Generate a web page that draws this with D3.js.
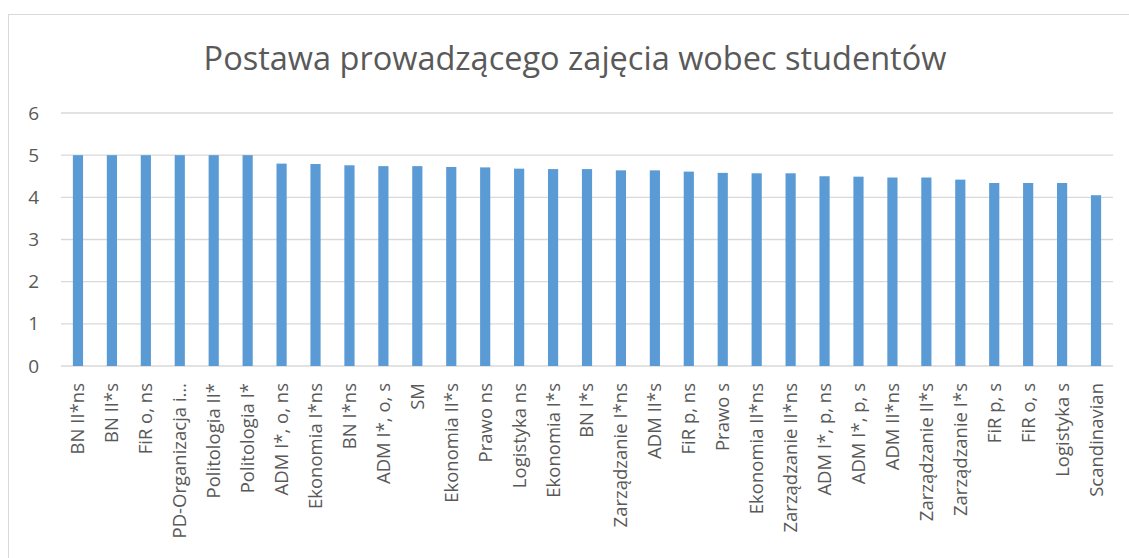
<!DOCTYPE html>
<html>
<head>
<meta charset="utf-8">
<script src="https://cdn.jsdelivr.net/npm/d3@7"></script>
<style>
  html, body { margin: 0; padding: 0; background: #fff; }
  svg { display: block; }
</style>
</head>
<body>
<svg id="chart" width="1129" height="558"></svg>
<script>
const title = "Postawa prowadzącego zajęcia wobec studentów";
const categories = [
  "BN II*ns", "BN II*s", "FiR o, ns", "PD-Organizacja i…", "Politologia II*",
  "Politologia I*", "ADM I*, o, ns", "Ekonomia I*ns", "BN I*ns", "ADM I*, o, s",
  "SM", "Ekonomia II*s", "Prawo ns", "Logistyka ns", "Ekonomia I*s",
  "BN I*s", "Zarządzanie I*ns", "ADM II*s", "FiR p, ns", "Prawo s",
  "Ekonomia II*ns", "Zarządzanie II*ns", "ADM I*, p, ns", "ADM I*, p, s", "ADM II*ns",
  "Zarządzanie II*s", "Zarządzanie I*s", "FiR p, s", "FiR o, s", "Logistyka s",
  "Scandinavian"
];
const values = [
  5.00, 5.00, 5.00, 5.00, 5.00,
  5.00, 4.80, 4.79, 4.76, 4.74,
  4.74, 4.72, 4.71, 4.68, 4.67,
  4.67, 4.64, 4.64, 4.61, 4.58,
  4.57, 4.57, 4.50, 4.49, 4.47,
  4.47, 4.42, 4.34, 4.34, 4.34,
  4.05
];
const yTicks = [0, 1, 2, 3, 4, 5, 6];

const svg = d3.select("#chart");
const font = "'Open Sans', 'Noto Sans', sans-serif";
const textColor = "#595959";

// chart border
svg.append("rect")
  .attr("x", 8.5).attr("y", 14.5)
  .attr("width", 1130).attr("height", 560)
  .attr("fill", "#fff")
  .attr("stroke", "#d9d9d9").attr("stroke-width", 1);

const x = d3.scaleBand()
  .domain(categories)
  .range([61, 1113])
  .paddingInner(0.7)
  .paddingOuter(0.35);

const y = d3.scaleLinear().domain([0, 6]).range([366, 113]);

// gridlines
svg.append("g")
  .selectAll("line")
  .data(yTicks)
  .join("line")
  .attr("x1", 61).attr("x2", 1113)
  .attr("y1", d => y(d)).attr("y2", d => y(d))
  .attr("stroke", "#d9d9d9").attr("stroke-width", 1.4);

// y tick labels
svg.append("g")
  .selectAll("text")
  .data(yTicks)
  .join("text")
  .attr("x", 39)
  .attr("y", d => y(d))
  .attr("dy", "0.35em")
  .attr("text-anchor", "end")
  .attr("font-family", font)
  .attr("font-size", 19)
  .attr("fill", textColor)
  .text(d => d);

// bars
svg.append("g")
  .selectAll("rect")
  .data(categories)
  .join("rect")
  .attr("x", d => x(d))
  .attr("width", x.bandwidth())
  .attr("y", (d, i) => y(values[i]))
  .attr("height", (d, i) => y(0) - y(values[i]))
  .attr("fill", "#5B9BD5");

// x labels
svg.append("g")
  .selectAll("text")
  .data(categories)
  .join("text")
  .attr("transform", d => `translate(${x(d) + x.bandwidth() / 2},383) rotate(-90)`)
  .attr("dy", "0.35em")
  .attr("text-anchor", "end")
  .attr("font-family", font)
  .attr("font-size", 18.5)
  .attr("fill", textColor)
  .text(d => d);

// title
svg.append("text")
  .attr("x", 575)
  .attr("y", 70)
  .attr("text-anchor", "middle")
  .attr("font-family", font)
  .attr("font-size", 32.5)
  .attr("fill", textColor)
  .text(title);
</script>
</body>
</html>
